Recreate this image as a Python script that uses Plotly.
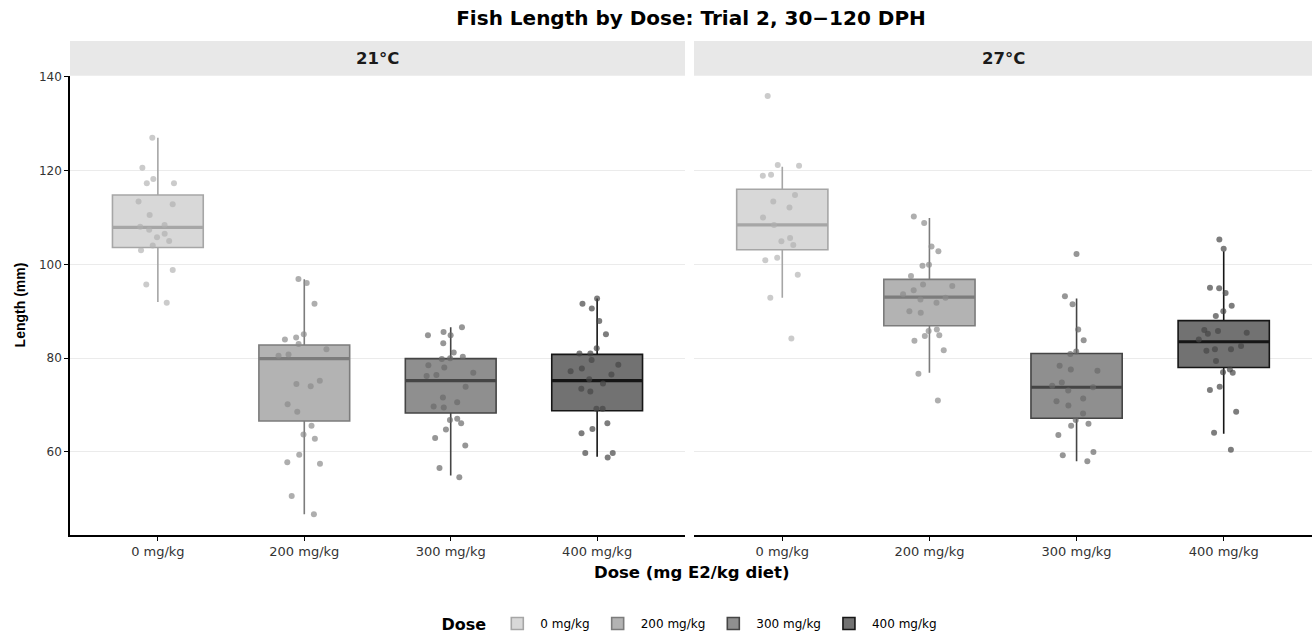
import plotly.graph_objects as go

# ---------------- data ----------------
doses = ["0 mg/kg", "200 mg/kg", "300 mg/kg", "400 mg/kg"]
temps = ["21°C", "27°C"]

# box statistics (mm)
q1_21 = [103.6, 66.6, 68.3, 68.8]
med_21 = [107.9, 79.9, 75.2, 75.2]
q3_21 = [114.8, 82.8, 79.9, 80.8]
lo_21 = [92.0, 46.7, 55.0, 59.0]
hi_21 = [127.0, 96.8, 86.6, 92.7]

q1_27 = [103.1, 86.9, 67.2, 78.0]
med_27 = [108.4, 93.0, 73.8, 83.5]
q3_27 = [116.0, 96.8, 81.0, 88.0]
lo_27 = [92.9, 76.9, 58.0, 63.9]
hi_27 = [120.8, 109.9, 92.7, 102.8]

# individual fish lengths (mm)
len_21_0 = [127.0, 120.6, 118.2, 117.3, 117.3, 113.4, 112.8, 110.5, 108.4, 108.0,
            107.4, 106.5, 105.8, 105.0, 104.0, 103.0, 98.8, 95.7, 91.8]
len_21_200 = [96.9, 96.0, 91.6, 85.1, 84.4, 84.0, 83.0, 81.9, 80.8, 80.5, 75.2, 74.5,
              74.0, 70.2, 68.6, 65.6, 63.7, 62.8, 59.4, 57.8, 57.5, 50.6, 46.7]
len_21_300 = [86.6, 84.9, 84.9, 85.6, 83.2, 81.2, 80.0, 80.3, 79.8, 78.5, 78.0, 76.9,
              76.4, 76.2, 73.9, 71.6, 70.6, 69.7, 69.5, 67.1, 66.8, 66.1, 64.8, 63.0,
              61.4, 56.6, 54.6]
len_21_400 = [92.7, 91.6, 90.6, 87.9, 85.1, 82.1, 81.0, 81.0, 79.6, 78.6, 77.8, 77.2,
              76.5, 75.5, 74.6, 73.5, 72.9, 69.2, 69.2, 66.1, 64.9, 64.0, 59.8, 59.8, 58.8]
len_27_0 = [135.9, 121.2, 121.0, 119.1, 118.9, 114.8, 113.4, 112.1, 110.0, 108.4,
            105.6, 104.9, 104.1, 101.4, 100.9, 97.8, 92.9, 84.2]
len_27_200 = [110.2, 108.8, 103.8, 102.8, 99.9, 99.7, 97.5, 95.7, 95.4, 94.5, 93.6,
              92.9, 92.5, 91.8, 90.0, 89.7, 86.1, 85.8, 84.9, 84.7, 83.7, 81.7, 76.7, 71.0]
len_27_300 = [102.2, 93.2, 91.5, 86.1, 83.8, 81.4, 80.9, 78.4, 77.6, 77.3, 74.8, 74.1,
              73.8, 73.1, 71.4, 70.8, 69.9, 68.2, 66.8, 66.0, 65.6, 63.6, 60.0, 59.3, 58.0]
len_27_400 = [105.3, 103.3, 95.0, 94.9, 93.9, 91.2, 90.0, 89.0, 86.0, 85.8, 85.4, 85.2,
              84.0, 82.6, 81.9, 81.9, 81.6, 79.4, 77.6, 77.0, 76.9, 73.9, 73.2, 68.6,
              64.1, 60.5]

y_ticks = [60, 80, 100, 120, 140]

# ---------------- styles ----------------
FONT = "DejaVu Sans, Liberation Sans, Arial, sans-serif"
FONT_N = "Liberation Sans, Arial, Helvetica, sans-serif"
fill_cols = ["#d8d8d8", "#b3b3b3", "#8f8f8f", "#727272"]
line_cols = ["#a6a6a6", "#7c7c7c", "#454545", "#161616"]
pt_cols = ["rgba(175,175,175,0.65)", "rgba(140,140,140,0.7)",
           "rgba(105,105,105,0.7)", "rgba(70,70,70,0.7)"]

stats = {
    "21°C": (q1_21, med_21, q3_21, lo_21, hi_21,
             [len_21_0, len_21_200, len_21_300, len_21_400]),
    "27°C": (q1_27, med_27, q3_27, lo_27, hi_27,
             [len_27_0, len_27_200, len_27_300, len_27_400]),
}

W, H = 1314, 642
ml, mr, mt, mb = 70, 2, 41, 104
pw, ph = W - ml - mr, H - mt - mb
plot_bottom = H - mb
strip_h = 35
ytop = (ph - strip_h) / ph
dom1 = [0, (685 - ml) / pw]
dom2 = [(694 - ml) / pw, 1]

BOXW = 0.62
fig = go.Figure()
for ti, t in enumerate(temps):
    xa = "x" if ti == 0 else "x2"
    ya = "y" if ti == 0 else "y2"
    q1, med, q3, lo, hi, pts = stats[t]
    for di, d in enumerate(doses):
        fig.add_trace(go.Box(
            x=[d], q1=[q1[di]], median=[med[di]], q3=[q3[di]],
            lowerfence=[lo[di]], upperfence=[hi[di]],
            name=d, legendgroup=d, showlegend=(ti == 0),
            fillcolor=fill_cols[di], line=dict(color=line_cols[di], width=1.6),
            whiskerwidth=0, width=BOXW, boxpoints=False,
            xaxis=xa, yaxis=ya, hoverinfo="skip"))
        # thicker median line
        fig.add_trace(go.Box(
            x=[d], q1=[med[di]], median=[med[di]], q3=[med[di]],
            lowerfence=[med[di]], upperfence=[med[di]],
            name=d, legendgroup=d, showlegend=False,
            fillcolor=line_cols[di], line=dict(color=line_cols[di], width=3.2),
            whiskerwidth=0, width=BOXW, boxpoints=False,
            xaxis=xa, yaxis=ya, hoverinfo="skip"))
        # jittered points
        fig.add_trace(go.Box(
            x=[d] * len(pts[di]), y=pts[di],
            name=d, legendgroup=d, showlegend=False,
            boxpoints="all", jitter=0.6, pointpos=0,
            fillcolor="rgba(0,0,0,0)", line=dict(color="rgba(0,0,0,0)", width=0),
            marker=dict(color=pt_cols[di], size=6, line=dict(width=0)),
            width=BOXW, whiskerwidth=0,
            xaxis=xa, yaxis=ya))

axis_common = dict(
    type="category", categoryorder="array", categoryarray=doses,
    range=[-0.6, 3.6], showgrid=False, zeroline=False,
    showline=True, linecolor="black", linewidth=1.5,
    ticks="outside", ticklen=4, tickcolor="black", tickwidth=1.2,
    tickfont=dict(family=FONT, size=13, color="#333333"),
)
yrange = [42.3, 140.2]
fig.update_layout(
    width=W, height=H, autosize=False,
    margin=dict(l=ml, r=mr, t=mt, b=mb),
    paper_bgcolor="white", plot_bgcolor="white",
    boxmode="overlay",
    font=dict(family=FONT, color="black"),
    title=dict(text="<b>Fish Length by Dose: Trial 2, 30\u2212120 DPH</b>",
               x=0.5, xref="paper", xanchor="center",
               y=1 - 18 / H, yref="container", yanchor="middle",
               font=dict(family=FONT, size=20, color="black")),
    xaxis=dict(axis_common, domain=dom1, anchor="y"),
    xaxis2=dict(axis_common, domain=dom2, anchor="y2"),
    yaxis=dict(domain=[0, ytop], range=yrange, tickvals=y_ticks,
               showgrid=True, gridcolor="#ebebeb", gridwidth=1, zeroline=False,
               showline=True, linecolor="black", linewidth=1.5,
               ticks="outside", ticklen=4, tickcolor="black", tickwidth=1.2,
               tickfont=dict(family=FONT, size=12, color="#333333"), anchor="x"),
    yaxis2=dict(domain=[0, ytop], range=yrange, tickvals=y_ticks,
                showgrid=True, gridcolor="#ebebeb", gridwidth=1, zeroline=False,
                showline=False, ticks="", showticklabels=False, anchor="x2"),
    legend=dict(orientation="h", x=0.5, xanchor="center",
                y=-(628 - plot_bottom) / ph, yanchor="middle",
                title=dict(text="<b>Dose</b>", side="left",
                           font=dict(family=FONT, size=16, color="black")),
                font=dict(family=FONT, size=12, color="black"),
                itemwidth=36, traceorder="normal"),
    showlegend=True,
)

# facet strips
for dom, t in [(dom1, temps[0]), (dom2, temps[1])]:
    fig.add_shape(type="rect", xref="paper", yref="paper",
                  x0=dom[0], x1=dom[1], y0=ytop, y1=1.0,
                  fillcolor="#e8e8e8", line=dict(width=0), layer="below")
    fig.add_annotation(text="<b>%s</b>" % t, xref="paper", yref="paper",
                       x=(dom[0] + dom[1]) / 2, y=(ytop + 1) / 2,
                       xanchor="center", yanchor="middle", showarrow=False,
                       font=dict(family=FONT, size=16.5, color="#1a1a1a"))

fig.add_annotation(text="<b>Dose (mg E2/kg diet)</b>", xref="paper", yref="paper",
                   x=0.5, y=-(576 - plot_bottom) / ph, xanchor="center",
                   yanchor="middle", showarrow=False,
                   font=dict(family=FONT, size=16.5, color="black"))
fig.add_annotation(text="<b>Length (mm)</b>", xref="paper", yref="paper",
                   x=(20 - ml) / pw, y=(plot_bottom - 307) / ph, xanchor="center",
                   yanchor="middle", textangle=-90, showarrow=False,
                   font=dict(family=FONT_N, size=14, color="black"))

fig.write_html("out.html")
